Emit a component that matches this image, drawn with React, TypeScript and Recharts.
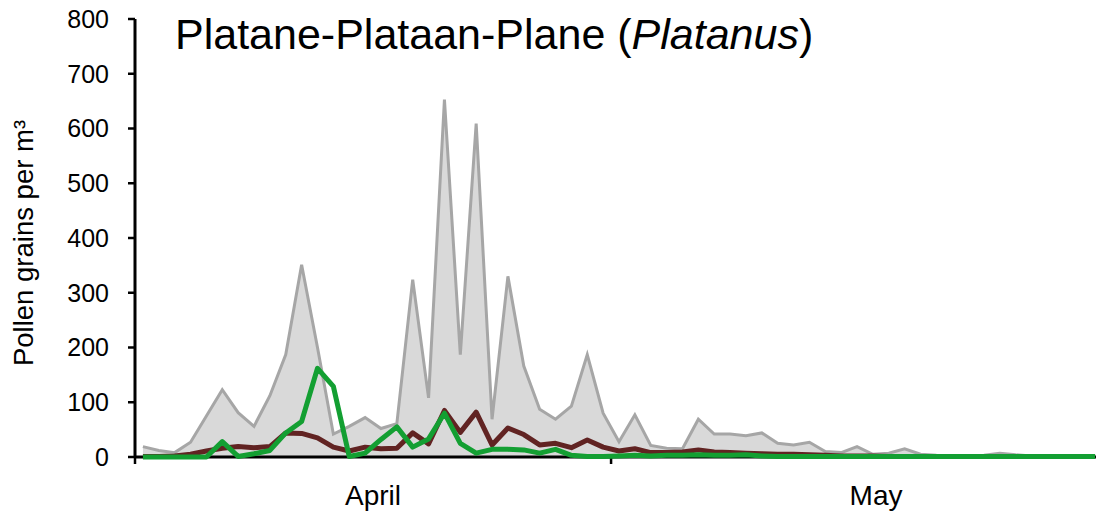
import { ComposedChart, Area, Line, XAxis, YAxis, Label } from "recharts";

// Daily pollen counts, 1 April - 31 May (61 days)
const months = ["April", "May"];
const monthDays = [30, 31];
const yTicks = [0, 100, 200, 300, 400, 500, 600, 700, 800];

// grey area: highest values
const maxValues = [
  19, 12, 8, 27, 75, 123, 81, 56, 112, 187,
  351, 200, 42, 56, 72, 52, 61, 324, 108, 653,
  187, 609, 69, 330, 166, 87, 69, 93, 187, 80,
  28, 77, 21, 16, 15, 69, 42, 42, 39, 44,
  25, 22, 27, 10, 8, 19, 5, 7, 15, 5,
  3, 2, 2, 3, 7, 4, 2, 1, 1, 1, 1,
];

// dark red line: mean
const meanValues = [
  1, 1, 2, 5, 11, 16, 19, 17, 19, 44,
  43, 35, 18, 11, 18, 15, 16, 44, 24, 85,
  45, 82, 22, 53, 41, 22, 25, 17, 31, 18,
  11, 15, 8, 8, 9, 13, 9, 8, 7, 6,
  5, 5, 4, 3, 2, 2, 2, 1, 1, 1,
  1, 1, 1, 1, 1, 1, 1, 1, 1, 1, 1,
];

// green line: current year
const currentValues = [
  0, 0, 0, 0, 0, 28, 1, 6, 12, 44,
  65, 162, 129, 1, 7, 32, 55, 18, 33, 80,
  25, 7, 14, 14, 13, 7, 14, 3, 1, 1,
  2, 3, 2, 3, 3, 4, 3, 3, 4, 2,
  1, 1, 1, 1, 1, 1, 1, 1, 1, 1,
  1, 1, 1, 1, 1, 1, 1, 1, 1, 1, 1,
];

const totalDays = monthDays.reduce((a, b) => a + b, 0);

const data = maxValues.map((v, i) => ({
  x: i + 0.5,
  max: v,
  mean: meanValues[i],
  current: currentValues[i],
}));

// month boundaries for tick marks, month centres for the labels
const boundaries = [0];
monthDays.forEach((d, i) => boundaries.push(boundaries[i] + d));
const monthMids = monthDays.map((d, i) => boundaries[i] + d / 2);

const font = "'Liberation Sans', Arial, sans-serif";

const MonthTick = ({ x, y, payload, index }: any) => (
  <text
    x={x}
    y={y}
    dx={index === 1 ? 19 : 0}
    textAnchor="middle"
    dominantBaseline="hanging"
    fontSize={28}
    fill="#000"
  >
    {months[monthMids.indexOf(payload.value)]}
  </text>
);

export default function App() {
  return (
    <div
      style={{
        position: "absolute",
        left: 0,
        top: 0,
        width: 1096,
        height: 517,
        overflow: "hidden",
        background: "#fff",
        fontFamily: font,
      }}
    >
      <ComposedChart
        width={1110}
        height={517}
        data={data}
        margin={{ top: 19, right: 7, left: 0, bottom: 0 }}
        style={{ fontFamily: font }}
      >
        <XAxis
          xAxisId="days"
          dataKey="x"
          type="number"
          domain={[0, totalDays]}
          ticks={boundaries}
          tickFormatter={() => ""}
          tickSize={7}
          tickLine={{ stroke: "#000", strokeWidth: 2.5 }}
          axisLine={{ stroke: "#000", strokeWidth: 3 }}
          height={10}
        />
        <XAxis
          xAxisId="months"
          dataKey="x"
          type="number"
          domain={[0, totalDays]}
          ticks={monthMids}
          axisLine={false}
          tickLine={false}
          tickSize={0}
          tickMargin={18}
          tick={<MonthTick />}
          height={50}
        />
        <YAxis
          domain={[0, 800]}
          ticks={yTicks}
          width={135}
          tickSize={7}
          tickMargin={19}
          tick={{ fill: "#000", fontSize: 25 }}
          tickLine={{ stroke: "#000", strokeWidth: 2.5 }}
          axisLine={{ stroke: "#000", strokeWidth: 3 }}
        >
          <Label
            content={({ viewBox }: any) => (
              <text
                transform={`translate(23, ${viewBox.y + viewBox.height / 2 + 5}) rotate(-90)`}
                textAnchor="middle"
                dominantBaseline="central"
                fontSize={27.5}
                fill="#000"
              >
                Pollen grains per m³
              </text>
            )}
          />
        </YAxis>
        <Area
          xAxisId="days"
          dataKey="max"
          type="linear"
          stroke="#A6A6A6"
          strokeWidth={3}
          fill="#D9D9D9"
          fillOpacity={1}
          dot={false}
          activeDot={false}
          isAnimationActive={false}
        />
        <Line
          xAxisId="days"
          dataKey="mean"
          type="linear"
          stroke="#612322"
          strokeWidth={5}
          strokeLinejoin="round"
          dot={false}
          activeDot={false}
          isAnimationActive={false}
          zIndex={600}
        />
        <Line
          xAxisId="days"
          dataKey="current"
          type="linear"
          stroke="#139F32"
          strokeWidth={5}
          strokeLinejoin="round"
          dot={false}
          activeDot={false}
          isAnimationActive={false}
          zIndex={610}
        />
      </ComposedChart>
      <div
        style={{
          position: "absolute",
          left: 175,
          top: 13,
          fontSize: 43,
          lineHeight: 1,
          color: "#000",
          whiteSpace: "nowrap",
        }}
      >
        Platane-Plataan-Plane (<i>Platanus</i>)
      </div>
    </div>
  );
}
